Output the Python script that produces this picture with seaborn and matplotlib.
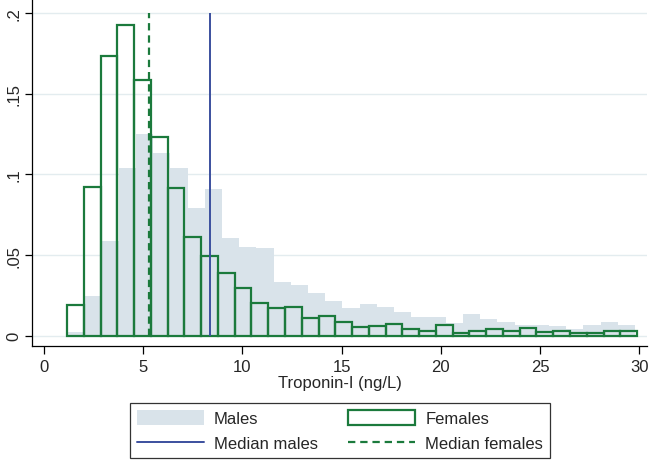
import matplotlib.pyplot as plt
import numpy as np
import pandas as pd
import seaborn as sns
from matplotlib.lines import Line2D
from matplotlib.patches import Patch

# histogram densities (equal-width bins over each range)
male_range = (1.18, 29.78)
male_density = [0.0025, 0.0248, 0.0585, 0.1039, 0.125, 0.113, 0.104, 0.079,
                0.0909, 0.0605, 0.0548, 0.0541, 0.033, 0.0316, 0.0265, 0.0217,
                0.017, 0.0196, 0.0176, 0.0149, 0.0114, 0.0114, 0.0079, 0.0134,
                0.0103, 0.0087, 0.0068, 0.0068, 0.0062, 0.0041, 0.0068, 0.0087,
                0.0068]

female_range = (1.18, 29.88)
female_density = [0.019, 0.092, 0.1735, 0.1927, 0.1586, 0.123, 0.0913, 0.0613,
                  0.0492, 0.0387, 0.0294, 0.0204, 0.017, 0.0176, 0.0108,
                  0.0124, 0.0083, 0.0056, 0.0062, 0.0072, 0.0041, 0.003,
                  0.0066, 0.002, 0.003, 0.0043, 0.003, 0.005, 0.0021, 0.0027,
                  0.0017, 0.0017, 0.003, 0.003]

median_males = 8.39
median_females = 5.32

x_ticks = [0, 5, 10, 15, 20, 25, 30]
y_ticks = [0, 0.05, 0.1, 0.15, 0.2]
y_tick_labels = ['0', '.05', '.1', '.15', '.2']

male_color = '#d9e3ea'
female_color = '#1b7a3c'
median_male_color = '#3b4f9e'
female_dash = (0, (3.3, 2.2))
font_size = 12

sns.set_style('white')
plt.rcParams['font.family'] = ['Liberation Sans', 'DejaVu Sans']


def binned_frame(rng, density):
    edges = np.linspace(rng[0], rng[1], len(density) + 1)
    df = pd.DataFrame({'value': (edges[:-1] + edges[1:]) / 2,
                       'density': density})
    return df, list(edges)


fig = plt.figure(figsize=(6.52, 4.64), dpi=100)
ax = fig.add_axes([0.0495, 0.252, 0.9425, 0.748])

male_df, m_edges = binned_frame(male_range, male_density)
sns.histplot(data=male_df, x='value', weights='density', bins=m_edges,
             stat='count', element='step', fill=True, color=male_color,
             alpha=1, linewidth=0, ax=ax)

female_df, f_edges = binned_frame(female_range, female_density)
sns.histplot(data=female_df, x='value', weights='density', bins=f_edges,
             stat='count', element='bars', fill=False, color=female_color,
             linewidth=1.6, ax=ax)

ax.vlines(median_males, 0, 0.2, color=median_male_color, lw=1.4, zorder=5)
ax.vlines(median_females, 0, 0.2, color=female_color, lw=1.6,
          linestyles=female_dash, zorder=5)

ax.set_xlim(-0.57, 30.37)
ax.set_ylim(-0.0064, 0.2087)
ax.set_xticks(x_ticks)
ax.set_yticks(y_ticks)
ax.set_yticklabels(y_tick_labels, rotation=90, va='center')
ax.set_ylabel('')
ax.set_xlabel('Troponin-I (ng/L)', fontsize=font_size, labelpad=1)

ax.set_axisbelow(True)
ax.yaxis.grid(True, color='#e3ecef', lw=1)
ax.xaxis.grid(False)
for side in ['top', 'right']:
    ax.spines[side].set_visible(False)
for side in ['left', 'bottom']:
    ax.spines[side].set_color('black')
    ax.spines[side].set_linewidth(0.9)
ax.tick_params(axis='x', bottom=True, direction='out', length=6, width=0.9,
               color='black', labelsize=font_size, pad=3)
ax.tick_params(axis='y', left=True, direction='out', length=5, width=0.9,
               color='black', labelsize=font_size, pad=3)

handles = [
    Patch(facecolor=male_color, edgecolor='none'),
    Line2D([0], [0], color=median_male_color, lw=1.4),
    Patch(facecolor='none', edgecolor=female_color, lw=1.6),
    Line2D([0], [0], color=female_color, lw=1.6, linestyle=female_dash),
]
labels = ['Males', 'Median males', 'Females', 'Median females']
leg = fig.legend(handles, labels, ncol=2, loc='center',
                 bbox_to_anchor=(340 / 652, 1 - 431.7 / 464),
                 fontsize=font_size, frameon=True, fancybox=False,
                 edgecolor='black', handlelength=4.0, handleheight=1.0,
                 handletextpad=0.6, columnspacing=1.85, labelspacing=0.55,
                 borderpad=0.4)
leg.get_frame().set_linewidth(0.9)

plt.savefig('out.png', dpi=100)
